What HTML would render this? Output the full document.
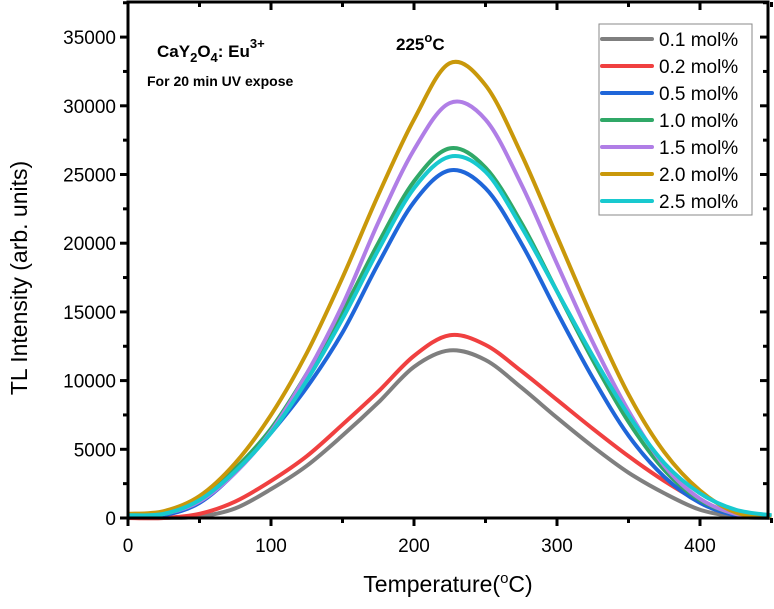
<!DOCTYPE html>
<html><head><meta charset="utf-8"><style>
body{margin:0;background:#fff;width:774px;height:604px;overflow:hidden}
svg{font-family:"Liberation Sans",Arial,sans-serif}
</style></head><body>
<svg id="chart" width="774" height="604">
<g id="marks"></g>
<g id="axes"></g>
<text x="157" y="57" font-size="17" font-weight="bold">CaY<tspan dy="5" font-size="13">2</tspan><tspan dy="-5">O</tspan><tspan dy="5" font-size="13">4</tspan><tspan dy="-5">: Eu</tspan><tspan dy="-9" font-size="13">3+</tspan></text>
<text x="147" y="86" font-size="14" font-weight="bold">For 20 min UV expose</text>
<text x="396" y="50" font-size="17" font-weight="bold">225<tspan dy="-8" font-size="13">o</tspan><tspan dy="8">C</tspan></text>
<text transform="translate(27,278) rotate(-90)" text-anchor="middle" font-size="23">TL Intensity (arb. units)</text>
<text x="448" y="592" text-anchor="middle" font-size="23">Temperature(<tspan dy="-9" font-size="15">o</tspan><tspan dy="9">C)</tspan></text>
<g id="legend"></g>
</svg>
<script>
const temps=[0,25,50,75,100,125,150,175,200,225,250,275,300,325,350,375,400,425,450];
const labels=["0.1 mol%","0.2 mol%","0.5 mol%","1.0 mol%","1.5 mol%","2.0 mol%","2.5 mol%"];
const colors=["#7f7f7f","#f04040","#1f66d9","#30a867","#b07ee6","#c9980a","#18c9cf"];
const s01=[0,0,100,700,2100,3800,6000,8400,11000,12200,11500,9500,7300,5200,3300,1800,600,100,0];
const s02=[0,0,300,1200,2700,4500,6800,9200,11800,13300,12600,10700,8600,6500,4500,2700,1200,300,100];
const s05=[100,200,1100,3300,6200,9500,13500,18500,23000,25300,24000,20000,15000,10200,6000,3000,1100,200,100];
const s10=[200,300,1400,3600,6500,10500,15000,20000,24500,26900,25500,21500,16500,11500,7000,3500,1300,300,100];
const s15=[200,300,1200,3300,6300,10500,15500,21500,26800,30200,29000,24300,18500,12800,7800,3800,1400,300,100];
const s20=[300,500,1600,4000,7500,12000,17500,23500,29000,33100,31500,26500,20500,14500,9000,4800,2000,400,100];
const s25=[200,300,1300,3400,6200,10000,14500,19500,24000,26300,25200,21200,16500,11800,7500,4000,1800,600,200];
const xTicks=[0,100,200,300,400];
const yTicks=[0,5000,10000,15000,20000,25000,30000,35000];
const series=[s01,s02,s05,s10,s15,s20,s25];
const order=[0,1,2,3,4,5,6];
const X0=128,X1=768,Y0=518,Y1=2;
const xs=v=>X0+v*1.43;
const ys=v=>Y0-v*68.7/5000;
const NS="http://www.w3.org/2000/svg";
function mk(t,a,p){const e=document.createElementNS(NS,t);for(const k in a)e.setAttribute(k,a[k]);p.appendChild(e);return e;}
function smooth(pts){let d="M"+pts[0][0]+","+pts[0][1];for(let i=0;i<pts.length-1;i++){const p0=pts[i-1]||pts[i],p1=pts[i],p2=pts[i+1],p3=pts[i+2]||p2;
d+=" C"+(p1[0]+(p2[0]-p0[0])/6)+","+(p1[1]+(p2[1]-p0[1])/6)+" "+(p2[0]-(p3[0]-p1[0])/6)+","+(p2[1]-(p3[1]-p1[1])/6)+" "+p2[0]+","+p2[1];}return d;}
const marks=document.getElementById('marks');
order.forEach(i=>{
 const pts=temps.map((t,j)=>[xs(t),ys(series[i][j])]);
 const p=mk('path',{d:smooth(pts),fill:'none',stroke:colors[i],'stroke-width':4,'stroke-linejoin':'round'},marks);
 
 
});
const ax=document.getElementById('axes');
const fr=mk('rect',{x:X0,y:Y1,width:X1-X0,height:Y0-Y1,fill:'none',stroke:'#000','stroke-width':3},ax);


for(let v=0;v<=450;v+=50){const x=xs(v),maj=v%100===0;
 mk('line',{x1:x,x2:x,y1:Y0,y2:Y0+(maj?8:5),stroke:'#000','stroke-width':3},ax);
 mk('line',{x1:x,x2:x,y1:Y1,y2:Y1+(maj?8:5),stroke:'#000','stroke-width':3},ax);}
xTicks.forEach(v=>{const t=mk('text',{x:xs(v),y:Y0+34,'text-anchor':'middle','font-size':19},ax);t.textContent=v;
 
 });
for(let v=0;v<=37500;v+=2500){const y=ys(v),maj=v%5000===0;
 mk('line',{x1:X0-(maj?8:5),x2:X0,y1:y,y2:y,stroke:'#000','stroke-width':3},ax);
 mk('line',{x1:X1-(maj?8:5),x2:X1,y1:y,y2:y,stroke:'#000','stroke-width':3},ax);}
yTicks.forEach(v=>{const t=mk('text',{x:X0-12,y:ys(v)+7,'text-anchor':'end','font-size':19},ax);t.textContent=v;
 
 });
const lg=document.getElementById('legend');
mk('rect',{x:599,y:24,width:153,height:191,fill:'#fff',stroke:'#888','stroke-width':1},lg);
labels.forEach((l,i)=>{const y=39+i*27;
 const ln=mk('line',{x1:602,x2:652,y1:y,y2:y,stroke:colors[i],'stroke-width':4,'stroke-linecap':'round'},lg);
 
 
 const t=mk('text',{x:659,y:y+7,'font-size':19},lg);t.textContent=l;
 
 });
</script>
</body></html>
